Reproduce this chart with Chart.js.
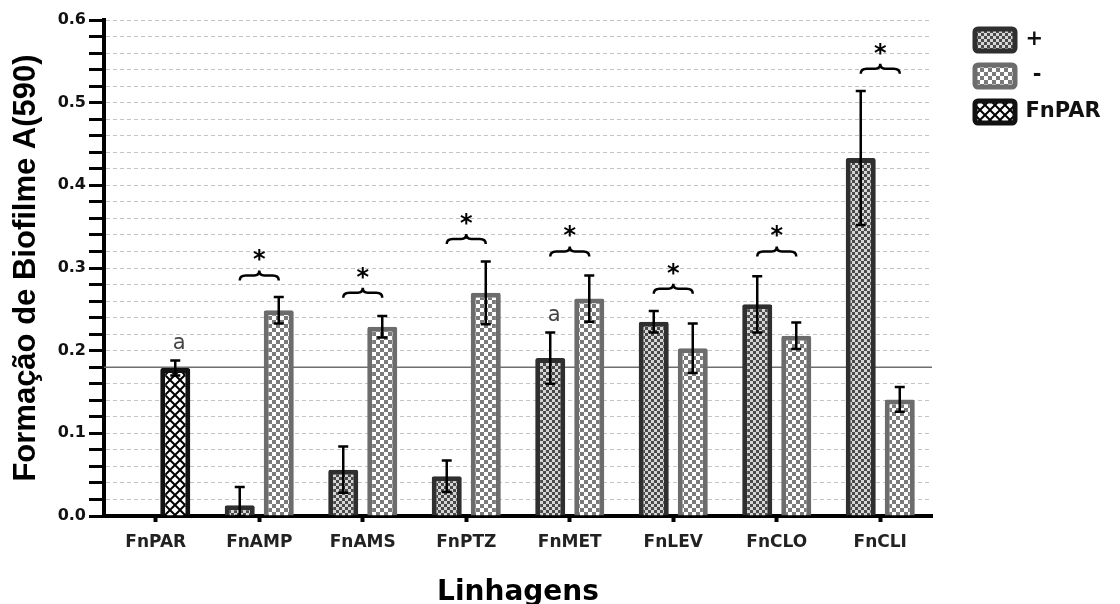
<!DOCTYPE html>
<html lang="pt">
<head>
<meta charset="utf-8">
<title>Formação de Biofilme</title>
<script src="https://cdn.jsdelivr.net/npm/chart.js@4.4.1/dist/chart.umd.min.js"></script>
<style>
    html, body { margin: 0; padding: 0; background: #ffffff; }
    .chart-container { position: relative; width: 1120px; height: 604px; }
</style>
</head>
<body>
<div class="chart-container">
    <canvas id="myChart"></canvas>
</div>
<script>
// =========================================================
// 1. DADOS
// =========================================================
const categories = ['FnPAR', 'FnAMP', 'FnAMS', 'FnPTZ', 'FnMET', 'FnLEV', 'FnCLO', 'FnCLI'];

const plusValues  = [null, 0.013, 0.056, 0.048, 0.191, 0.235, 0.256, 0.433];
const plusErrors  = [null, 0.022, 0.028, 0.019, 0.031, 0.013, 0.034, 0.081];

const minusValues = [null, 0.249, 0.229, 0.270, 0.263, 0.203, 0.218, 0.141];
const minusErrors = [null, 0.016, 0.013, 0.038, 0.028, 0.030, 0.016, 0.015];

const parValues   = [0.179, null, null, null, null, null, null, null];
const parErrors   = [0.009, null, null, null, null, null, null, null];

// linha de referência (FnPAR) e marcas de significância
const referenceLevel = 0.18;
const braceLevels  = [null, 0.291, 0.270, 0.335, 0.320, 0.275, 0.320, 0.541];
const plusLetters  = [null, null, null, null, 'a', null, null, null];
const parLetters   = ['a', null, null, null, null, null, null, null];

const yTickStep = 0.02;
const yMax = 0.6;

let myChart = null;

// =========================================================
// 2. PADRÕES DE PREENCHIMENTO
// =========================================================
function makePattern(size, paint) {
    const c = document.createElement('canvas');
    c.width = size;
    c.height = size;
    paint(c.getContext('2d'), size);
    return document.createElement('canvas').getContext('2d').createPattern(c, 'repeat');
}

const plusPattern = makePattern(6, (ctx, s) => {
    ctx.fillStyle = '#d6d6d6';
    ctx.fillRect(0, 0, s, s);
    ctx.fillStyle = '#4a4a4a';
    ctx.fillRect(0, 0, 3, 3);
    ctx.fillRect(3, 3, 3, 3);
});

const minusPattern = makePattern(8, (ctx, s) => {
    ctx.fillStyle = '#ffffff';
    ctx.fillRect(0, 0, s, s);
    ctx.fillStyle = '#7a7a7a';
    ctx.fillRect(0, 0, 4, 4);
    ctx.fillRect(4, 4, 4, 4);
});

const parPattern = makePattern(10, (ctx, s) => {
    ctx.fillStyle = '#ffffff';
    ctx.fillRect(0, 0, s, s);
    ctx.strokeStyle = '#000000';
    ctx.lineWidth = 2;
    ctx.beginPath();
    ctx.moveTo(0, 0); ctx.lineTo(s, s);
    ctx.moveTo(s, 0); ctx.lineTo(0, s);
    ctx.stroke();
});

// =========================================================
// 3. PLUGIN: barras de erro, chaves, asteriscos e letras
// =========================================================
function drawBrace(ctx, x1, x2, y) {
    const xm = (x1 + x2) / 2;
    ctx.beginPath();
    ctx.moveTo(x1, y + 5);
    ctx.quadraticCurveTo(x1, y, x1 + 6, y);
    ctx.lineTo(xm - 5, y);
    ctx.quadraticCurveTo(xm, y, xm, y - 5);
    ctx.quadraticCurveTo(xm, y, xm + 5, y);
    ctx.lineTo(x2 - 6, y);
    ctx.quadraticCurveTo(x2, y, x2, y + 5);
    ctx.stroke();
}

const annotationsPlugin = {
    id: 'annotations',
    beforeDatasetsDraw(chart) {
        const {ctx, chartArea, scales: {y}} = chart;
        const py = y.getPixelForValue(referenceLevel);
        ctx.save();
        ctx.strokeStyle = '#6e6e6e';
        ctx.lineWidth = 1.5;
        ctx.beginPath();
        ctx.moveTo(chartArea.left, py);
        ctx.lineTo(chartArea.right, py);
        ctx.stroke();
        ctx.restore();
    },
    afterDatasetsDraw(chart) {
        const {ctx, scales: {y}} = chart;
        const errorSets = [plusErrors, minusErrors, parErrors];
        const valueSets = [plusValues, minusValues, parValues];
        const letterSets = [plusLetters, null, parLetters];

        ctx.save();
        ctx.strokeStyle = '#000000';
        ctx.fillStyle = '#000000';
        ctx.lineWidth = 2.5;

        errorSets.forEach((errs, d) => {
            const meta = chart.getDatasetMeta(d);
            meta.data.forEach((bar, i) => {
                const v = valueSets[d][i];
                const e = errs[i];
                if (v === null || e === null) return;
                const top = y.getPixelForValue(v + e);
                const bot = y.getPixelForValue(Math.max(v - e, 0));
                ctx.beginPath();
                ctx.moveTo(bar.x, top); ctx.lineTo(bar.x, bot);
                ctx.moveTo(bar.x - 5, top); ctx.lineTo(bar.x + 5, top);
                ctx.moveTo(bar.x - 5, bot); ctx.lineTo(bar.x + 5, bot);
                ctx.stroke();

                const letters = letterSets[d];
                if (letters && letters[i]) {
                    ctx.save();
                    ctx.fillStyle = '#444444';
                    ctx.font = '21px "DejaVu Sans"';
                    ctx.textAlign = 'center';
                    ctx.textBaseline = 'middle';
                    ctx.fillText(letters[i], bar.x + 4, top - 17);
                    ctx.restore();
                }
            });
        });

        // chaves + asterisco entre as barras + e -
        const plusMeta = chart.getDatasetMeta(0);
        const minusMeta = chart.getDatasetMeta(1);
        braceLevels.forEach((lvl, i) => {
            if (lvl === null) return;
            const x1 = plusMeta.data[i].x;
            const x2 = minusMeta.data[i].x;
            const py = y.getPixelForValue(lvl);
            ctx.lineWidth = 2.5;
            drawBrace(ctx, x1, x2, py);
            ctx.font = 'bold 24px "DejaVu Sans"';
            ctx.textAlign = 'center';
            ctx.textBaseline = 'alphabetic';
            ctx.fillText('*', (x1 + x2) / 2, py - 8);
        });
        ctx.restore();
    }
};

// legenda afastada da área do gráfico
const legendLayoutPlugin = {
    id: 'legendLayout',
    beforeInit(chart) {
        const originalFit = chart.legend.fit;
        chart.legend.fit = function () {
            originalFit.call(this);
            this.width = 188;
        };
    },
    afterLayout(chart) {
        const lg = chart.legend;
        const w = lg.right - lg.left;
        lg.left = chart.chartArea.right + 29;
        lg.right = lg.left + w;
        lg.top -= 5;
    }
};

// =========================================================
// 4. GRÁFICO
// =========================================================
function generateChart() {
    const ctx = document.getElementById('myChart').getContext('2d');

    myChart = new Chart(ctx, {
        type: 'bar',
        data: {
            labels: categories,
            datasets: [
                {
                    label: '+',
                    data: plusValues,
                    stack: 'pos',
                    backgroundColor: plusPattern,
                    borderColor: '#2f2f2f',
                    borderWidth: 5,
                    borderRadius: 2,
                    borderSkipped: 'bottom'
                },
                {
                    label: ' -',
                    data: minusValues,
                    stack: 'neg',
                    backgroundColor: minusPattern,
                    borderColor: '#6c6c6c',
                    borderWidth: 5,
                    borderRadius: 2,
                    borderSkipped: 'bottom'
                },
                {
                    label: 'FnPAR',
                    data: parValues,
                    stack: 'neg',
                    backgroundColor: parPattern,
                    borderColor: '#111111',
                    borderWidth: 5,
                    borderRadius: 2,
                    borderSkipped: 'bottom'
                }
            ]
        },
        options: {
            responsive: true,
            maintainAspectRatio: false,
            animation: false,
            categoryPercentage: 0.754,
            barPercentage: 0.77,
            layout: { padding: { top: 20, left: 0, right: 0, bottom: 0 } },
            scales: {
                x: {
                    stacked: true,
                    afterFit: (s) => { s.height = 88; },
                    grid: {
                        offset: false,
                        drawOnChartArea: false,
                        drawTicks: true,
                        tickLength: 6,
                        tickWidth: 4,
                        tickColor: '#000000'
                    },
                    border: { display: true, color: '#000000', width: 4 },
                    ticks: {
                        padding: 10,
                        color: '#222222',
                        font: { family: 'DejaVu Sans', weight: 'bold', size: 17 }
                    },
                    title: {
                        display: true,
                        text: 'Linhagens',
                        color: '#000000',
                        padding: { top: 0, bottom: 0 },
                        font: { family: 'DejaVu Sans', weight: 'bold', size: 28, lineHeight: 0.8 }
                    }
                },
                y: {
                    stacked: true,
                    min: 0,
                    max: yMax,
                    afterFit: (s) => { s.width = 104; },
                    grid: {
                        color: (c) => (c.tick && c.tick.value === 0 ? 'rgba(0,0,0,0)' : '#c4c4c4'),
                        lineWidth: 1,
                        drawTicks: true,
                        tickLength: 15,
                        tickWidth: 3,
                        tickColor: '#000000'
                    },
                    border: { display: true, color: '#000000', width: 4, dash: [4, 3] },
                    ticks: {
                        stepSize: yTickStep,
                        autoSkip: false,
                        padding: 3,
                        color: '#111111',
                        font: { family: 'DejaVu Sans', weight: 'bold', size: 16 },
                        callback: (v) => (Math.abs(v * 10 - Math.round(v * 10)) < 1e-6 ? v.toFixed(1) : '')
                    },
                    title: {
                        display: true,
                        text: 'Formação de Biofilme A(590)',
                        color: '#000000',
                        padding: { top: 11, bottom: 0 },
                        font: { family: 'Liberation Sans', weight: 'bold', size: 31, lineHeight: 1 }
                    }
                }
            },
            plugins: {
                tooltip: { enabled: false },
                legend: {
                    position: 'right',
                    align: 'start',
                    labels: {
                        boxWidth: 40,
                        boxHeight: 22,
                        padding: 14,
                        color: '#111111',
                        useBorderRadius: true,
                        borderRadius: 3,
                        font: { family: 'DejaVu Sans', weight: 'bold', size: 21 }
                    }
                }
            }
        },
        plugins: [annotationsPlugin, legendLayoutPlugin]
    });
}

document.addEventListener('DOMContentLoaded', generateChart);
</script>
</body>
</html>
